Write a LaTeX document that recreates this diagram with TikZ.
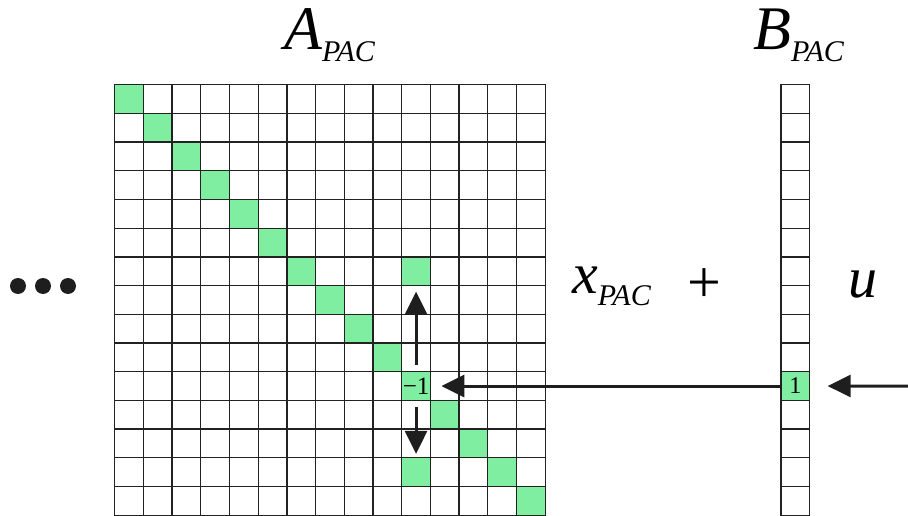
\documentclass[tikz,border=0pt]{standalone}
\usepackage{fontspec}
\setmainfont{Liberation Serif}
\usetikzlibrary{arrows.meta}
\definecolor{pacgreen}{RGB}{128,238,160}
\definecolor{gridc}{RGB}{34,34,34}
\definecolor{arrc}{RGB}{30,30,30}
\tikzset{
  cell/.style={draw=gridc, line width=1.3pt, minimum size=28.7pt, inner sep=0pt, outer sep=0pt, anchor=north west},
  arr/.style={draw=arrc, line width=3pt, -{Triangle[length=23pt,width=22pt]}},
  dot/.style={circle, fill=arrc, minimum size=16pt, inner sep=0pt},
  big/.style={inner sep=0pt, anchor=base west, font=\fontsize{62}{62}\selectfont\itshape},
}
\newcommand{\subpac}{\raisebox{-12pt}{\fontsize{30}{30}\selectfont\itshape PAC}}
\begin{document}
\begin{tikzpicture}[x=1pt, y=-1pt]
\useasboundingbox (0,0) rectangle (908,516);
% A matrix
\foreach \r in {0,...,14} {
  \foreach \c in {0,...,14} {
    \pgfmathtruncatemacro\g{(\r==\c)||((\c==10)&&((\r==6)||(\r==13)))}
    \ifnum\g=1 \colorlet{cf}{pacgreen}\else\colorlet{cf}{white}\fi
    \node[cell, fill=cf] (c-\r-\c) at ({114.7+28.7*\c}, {84.7+28.7*\r}) {};
  }
}
\node[font=\fontsize{25}{25}\selectfont] at (c-10-10.center) (m1) {−1};
% B column
\foreach \r in {0,...,14} {
  \ifnum\r=10 \colorlet{cf}{pacgreen}\else\colorlet{cf}{white}\fi
  \node[cell, fill=cf] (b-\r) at (781, {84.7+28.7*\r}) {};
}
\node[font=\fontsize{24}{24}\selectfont] at (b-10.center) (one) {1};
% labels
\node[big] (la) at (284,50) {A\subpac};
\node[big] (lb) at (753,50) {B\subpac};
\node[big, font=\fontsize{58}{58}\selectfont\itshape] (lx) at (572,293) {x\subpac};
\node[inner sep=0pt, font=\fontsize{60}{60}\selectfont] (plus) at (704,286) {+};
\node[big, font=\fontsize{58}{58}\selectfont\itshape] (lu) at (848,297) {u};
% dots
\node[dot] (d1) at (18,286) {};
\node[dot] (d2) at (43,286) {};
\node[dot] (d3) at (68,286) {};
% arrows
\coordinate (uin) at (908,386);
\draw[arr] ([yshift=7pt]c-10-10.north) -- ([yshift=-6pt]c-6-10.south);
\draw[arr] ([yshift=-7pt]c-10-10.south) -- ([yshift=4pt]c-13-10.north);
\draw[arr] (b-10.west) -- ([xshift=11pt]c-10-10.east);
\draw[arr] (uin) -- ([xshift=18pt]b-10.east);
\end{tikzpicture}
\end{document}
